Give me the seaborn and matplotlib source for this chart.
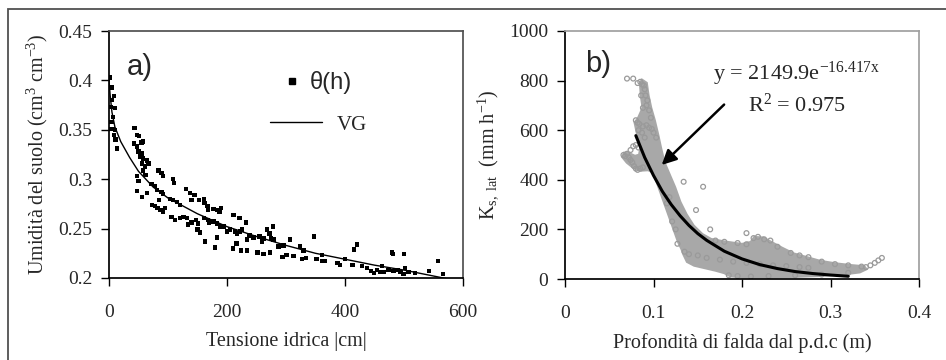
import seaborn as sns
import matplotlib.pyplot as plt
import pandas as pd
from matplotlib.lines import Line2D
from matplotlib.patches import Rectangle, Polygon
from matplotlib.ticker import FormatStrFormatter

# ---- pannello a): curva di ritenzione ----
tensione = [1.7, 4.5, 9, 5, 10, 3.4, 7, 4, 5.7, 10, 8.5, 11, 14, 2.3,
            43.5, 47, 51, 42, 48, 55, 58, 50, 55.5, 52.5, 58, 64, 67, 61, 55.5, 58, 62, 47, 50, 47, 55.5, 64,
            72, 78, 84, 89, 92, 108, 110, 81, 89, 92, 85, 73, 78, 82, 87, 92, 95, 103, 109, 115, 120,
            131, 137, 145, 140, 153, 161, 162, 167, 168, 177, 183, 190, 187,
            106, 112, 120, 126, 132, 134, 140, 148, 151, 150, 154, 161, 168, 170, 177, 183, 188, 195, 200, 205,
            211, 221, 232, 183, 163, 180, 214, 217, 222, 225, 215, 217, 210, 224, 234, 234, 238, 245, 255, 259,
            262, 268, 272, 275, 278, 279, 252, 262, 273, 287, 296, 301, 294, 307, 313, 324, 330, 334, 327,
            348, 352, 361, 362, 366, 387, 392, 400, 413, 415, 420, 429, 437, 444, 449, 454, 463, 465, 474,
            480, 481, 482, 489, 494, 500, 502, 508, 519, 542, 558, 566, 460, 499]
umidita = [0.403, 0.393, 0.384, 0.380, 0.372, 0.373, 0.363, 0.358, 0.351, 0.350, 0.345, 0.340, 0.331, 0.351,
           0.352, 0.345, 0.344, 0.336, 0.333, 0.337, 0.338, 0.328, 0.326, 0.323, 0.321, 0.319, 0.316, 0.313,
           0.316, 0.309, 0.304, 0.303, 0.298, 0.288, 0.282, 0.286,
           0.295, 0.293, 0.309, 0.306, 0.303, 0.300, 0.296, 0.289, 0.287, 0.285, 0.279, 0.274, 0.273, 0.271,
           0.269, 0.267, 0.271, 0.280, 0.279, 0.277, 0.274,
           0.290, 0.286, 0.284, 0.279, 0.279, 0.280, 0.276, 0.273, 0.269, 0.270, 0.269, 0.271, 0.267,
           0.262, 0.259, 0.261, 0.262, 0.261, 0.254, 0.256, 0.259, 0.255, 0.249, 0.246, 0.261, 0.259, 0.256,
           0.257, 0.255, 0.252, 0.252, 0.247, 0.249,
           0.264, 0.261, 0.256, 0.241, 0.237, 0.231, 0.247, 0.245, 0.247, 0.249, 0.235, 0.235, 0.230, 0.228,
           0.228, 0.239, 0.243, 0.241, 0.242, 0.237,
           0.240, 0.249, 0.245, 0.240, 0.252, 0.239, 0.226, 0.224, 0.226, 0.232, 0.233, 0.223, 0.221, 0.239,
           0.222, 0.232, 0.228, 0.220, 0.219,
           0.242, 0.219, 0.223, 0.217, 0.217, 0.215, 0.213, 0.219, 0.213, 0.229, 0.234, 0.212, 0.210, 0.207,
           0.205, 0.208, 0.212, 0.206, 0.208,
           0.226, 0.224, 0.207, 0.208, 0.206, 0.224, 0.210, 0.206, 0.205, 0.207, 0.217, 0.204, 0.206, 0.204]

vg_h = [0, 2, 5, 10, 20, 35, 50, 75, 100, 150, 200, 250, 300, 350, 400, 450, 500, 550, 575]
vg_theta = [0.400, 0.385, 0.368, 0.353, 0.338, 0.322, 0.308, 0.292, 0.281, 0.265, 0.252, 0.242,
            0.233, 0.225, 0.219, 0.213, 0.208, 0.202, 0.199]

# ---- pannello b): Ks laterale vs profondità di falda ----
# zona densa della nuvola di punti (contorno)
banda_x = [0.092, 0.094, 0.097, 0.101, 0.105, 0.108, 0.112, 0.118, 0.124, 0.130, 0.137, 0.145, 0.155,
           0.165, 0.180, 0.200, 0.210, 0.214, 0.224, 0.232, 0.245, 0.258, 0.272, 0.288, 0.305, 0.322, 0.338,
           0.340, 0.333, 0.315, 0.290, 0.260, 0.230, 0.200, 0.187, 0.180, 0.170, 0.158, 0.146, 0.138, 0.134,
           0.132, 0.128, 0.124, 0.120, 0.116, 0.112, 0.108, 0.104, 0.100, 0.094, 0.085, 0.077, 0.070, 0.065,
           0.067, 0.073, 0.079, 0.084, 0.086, 0.082, 0.079, 0.083, 0.088, 0.086, 0.085, 0.087]
banda_y = [790, 740, 690, 640, 580, 530, 470, 420, 370, 310, 260, 215, 180,
           160, 150, 140, 148, 168, 166, 150, 125, 102, 88, 72, 62, 55, 50,
           40, 28, 20, 14, 10, 8, 8, 12, 25, 35, 45, 55, 70, 100,
           120, 150, 190, 230, 270, 310, 350, 390, 430, 440, 438, 450, 470, 492,
           508, 505, 495, 500, 540, 580, 630, 650, 690, 740, 790, 802]

# punti sparsi ai bordi della nuvola
prof = [0.070, 0.077, 0.082, 0.085, 0.087, 0.089, 0.090, 0.091, 0.093, 0.092, 0.095, 0.097, 0.088, 0.086,
        0.080, 0.082, 0.084, 0.088, 0.092, 0.095, 0.098, 0.083, 0.087, 0.100, 0.103, 0.090,
        0.066, 0.068, 0.070, 0.072, 0.074, 0.076, 0.078, 0.080, 0.082, 0.085, 0.088, 0.074, 0.077, 0.080, 0.083,
        0.134, 0.156, 0.148, 0.164, 0.205, 0.121, 0.127, 0.115, 0.118, 0.125,
        0.340, 0.345, 0.350, 0.354, 0.358,
        0.135, 0.140, 0.150, 0.160, 0.175, 0.190, 0.205, 0.220, 0.235, 0.250, 0.265, 0.275,
        0.170, 0.180, 0.195, 0.205, 0.213, 0.218, 0.225, 0.232, 0.240, 0.255, 0.265, 0.275, 0.290, 0.305,
        0.320, 0.335,
        0.185, 0.195, 0.210, 0.230, 0.260, 0.290, 0.320]
ks_lat = [808, 808, 790, 795, 785, 780, 765, 740, 720, 700, 680, 650, 690, 740,
          640, 630, 625, 615, 620, 610, 605, 600, 590, 590, 570, 570,
          500, 495, 505, 490, 480, 470, 455, 445, 440, 445, 450, 520, 535, 540, 530,
          392, 372, 278, 200, 185, 232, 142, 305, 330, 200,
          48, 55, 65, 75, 85,
          110, 100, 95, 85, 78, 70, 65, 60, 55, 52, 48, 45,
          155, 150, 145, 140, 165, 170, 160, 155, 130, 105, 95, 88, 70, 60,
          55, 50,
          15, 12, 10, 12, 15, 18, 25]

fit_x = [0.08, 0.09, 0.10, 0.11, 0.12, 0.13, 0.14, 0.15, 0.16, 0.18, 0.20, 0.22, 0.24, 0.26, 0.28, 0.30, 0.32]
fit_y = [578, 490, 417, 353, 300, 255, 216, 183, 156, 112, 81, 58, 42, 30, 22, 16, 11]

df_a = pd.DataFrame({"h": tensione, "theta": umidita})
df_vg = pd.DataFrame({"h": vg_h, "theta": vg_theta})
df_b = pd.DataFrame({"z": prof, "ks": ks_lat})
df_fit = pd.DataFrame({"z": fit_x, "ks": fit_y})

sns.set_theme(style="ticks")
plt.rcParams["font.family"] = ["Liberation Serif", "DejaVu Serif"]
plt.rcParams["mathtext.fontset"] = "custom"
plt.rcParams["mathtext.rm"] = "Liberation Serif"
plt.rcParams["mathtext.it"] = "Liberation Serif:italic"

fig = plt.figure(figsize=(9.46, 3.6), dpi=100)
ax1 = fig.add_axes([0.1152, 0.2278, 0.3742, 0.686])
ax2 = fig.add_axes([0.5973, 0.225, 0.3742, 0.689])

# cornice esterna
fig.patches.append(Rectangle((0.0085, -0.2), 1.2, 1.175, transform=fig.transFigure,
                             fill=False, edgecolor="#505050", linewidth=1.3))

# --- a) ---
sns.scatterplot(data=df_a, x="h", y="theta", ax=ax1, marker="s", s=10, color="black",
                edgecolor="none", linewidth=0, legend=False)
sns.lineplot(data=df_vg, x="h", y="theta", ax=ax1, color="black", linewidth=1.0, estimator=None)
ax1.set_xlim(0, 600)
ax1.set_ylim(0.2, 0.45)
ax1.set_xticks([0, 200, 400, 600])
ax1.set_yticks([0.2, 0.25, 0.3, 0.35, 0.4, 0.45])
ax1.yaxis.set_major_formatter(FormatStrFormatter("%g"))
ax1.set_xlabel("Tensione idrica |cm|", fontsize=14.5, labelpad=8)
ax1.set_ylabel("Umidità del suolo (cm$^3$ cm$^{-3}$)", fontsize=14.5, labelpad=6)
ax1.text(0.05, 0.82, "a)", transform=ax1.transAxes, fontsize=21, family="Liberation Sans")

leg1 = ax1.legend([Line2D([], [], marker="s", color="black", linestyle="none", markersize=5)],
                  ["θ(h)"], loc="center left", bbox_to_anchor=(0.487, 0.79), frameon=False,
                  fontsize=17, handlelength=0.9, handletextpad=0.3, borderaxespad=0, borderpad=0)
leg1.get_texts()[0].set_family("Liberation Sans")
ax1.add_artist(leg1)
ax1.legend([Line2D([], [], color="black", linewidth=1.0)], ["VG"], loc="center left",
           bbox_to_anchor=(0.455, 0.62), frameon=False, fontsize=15, handlelength=2.5,
           handletextpad=0.7, borderaxespad=0, borderpad=0)

# --- b) ---
ax2.add_patch(Polygon(list(zip(banda_x, banda_y)), closed=True, facecolor="#a8a8a8",
                      edgecolor="#a8a8a8", linewidth=2))
sns.scatterplot(data=df_b, x="z", y="ks", ax=ax2, marker="o", s=12, facecolor="none",
                edgecolor="#9a9a9a", linewidth=0.9, legend=False)
sns.lineplot(data=df_fit, x="z", y="ks", ax=ax2, color="black", linewidth=2.2, estimator=None)
ax2.set_xlim(0, 0.4)
ax2.set_ylim(0, 1000)
ax2.set_xticks([0, 0.1, 0.2, 0.3, 0.4])
ax2.set_yticks([0, 200, 400, 600, 800, 1000])
ax2.xaxis.set_major_formatter(FormatStrFormatter("%g"))
ax2.set_xlabel("Profondità di falda dal p.d.c (m)", fontsize=14.5, labelpad=8)
ax2.set_ylabel("K$_{\\mathrm{s,\\ lat}}$  (mm h$^{-1}$)", fontsize=14.5, labelpad=6)
ax2.text(0.056, 0.835, "b)", transform=ax2.transAxes, fontsize=21, family="Liberation Sans")
ax2.text(0.262, 802, "y = 2149.9e$^{\\mathrm{-16.417x}}$", fontsize=16, ha="center", va="baseline")
ax2.text(0.262, 673, "R$^2$ = 0.975", fontsize=16, ha="center", va="baseline")
ax2.annotate("", xy=(0.107, 452), xytext=(0.182, 711),
             arrowprops=dict(arrowstyle="-|>", color="black", linewidth=1.8, mutation_scale=22))

for ax, edge in [(ax1, "#505050"), (ax2, "#a0a0a0")]:
    for s in ["top", "right"]:
        ax.spines[s].set_visible(True)
        ax.spines[s].set_color(edge)
    for s in ["left", "bottom"]:
        ax.spines[s].set_color("black")
    ax.tick_params(axis="both", direction="out", length=6, width=1, color="black", labelsize=14)
    ax.tick_params(axis="x", pad=13)
    ax.tick_params(axis="y", pad=6)
    ax.set_facecolor("white")

fig.savefig("out.png", dpi=100, facecolor="white")
